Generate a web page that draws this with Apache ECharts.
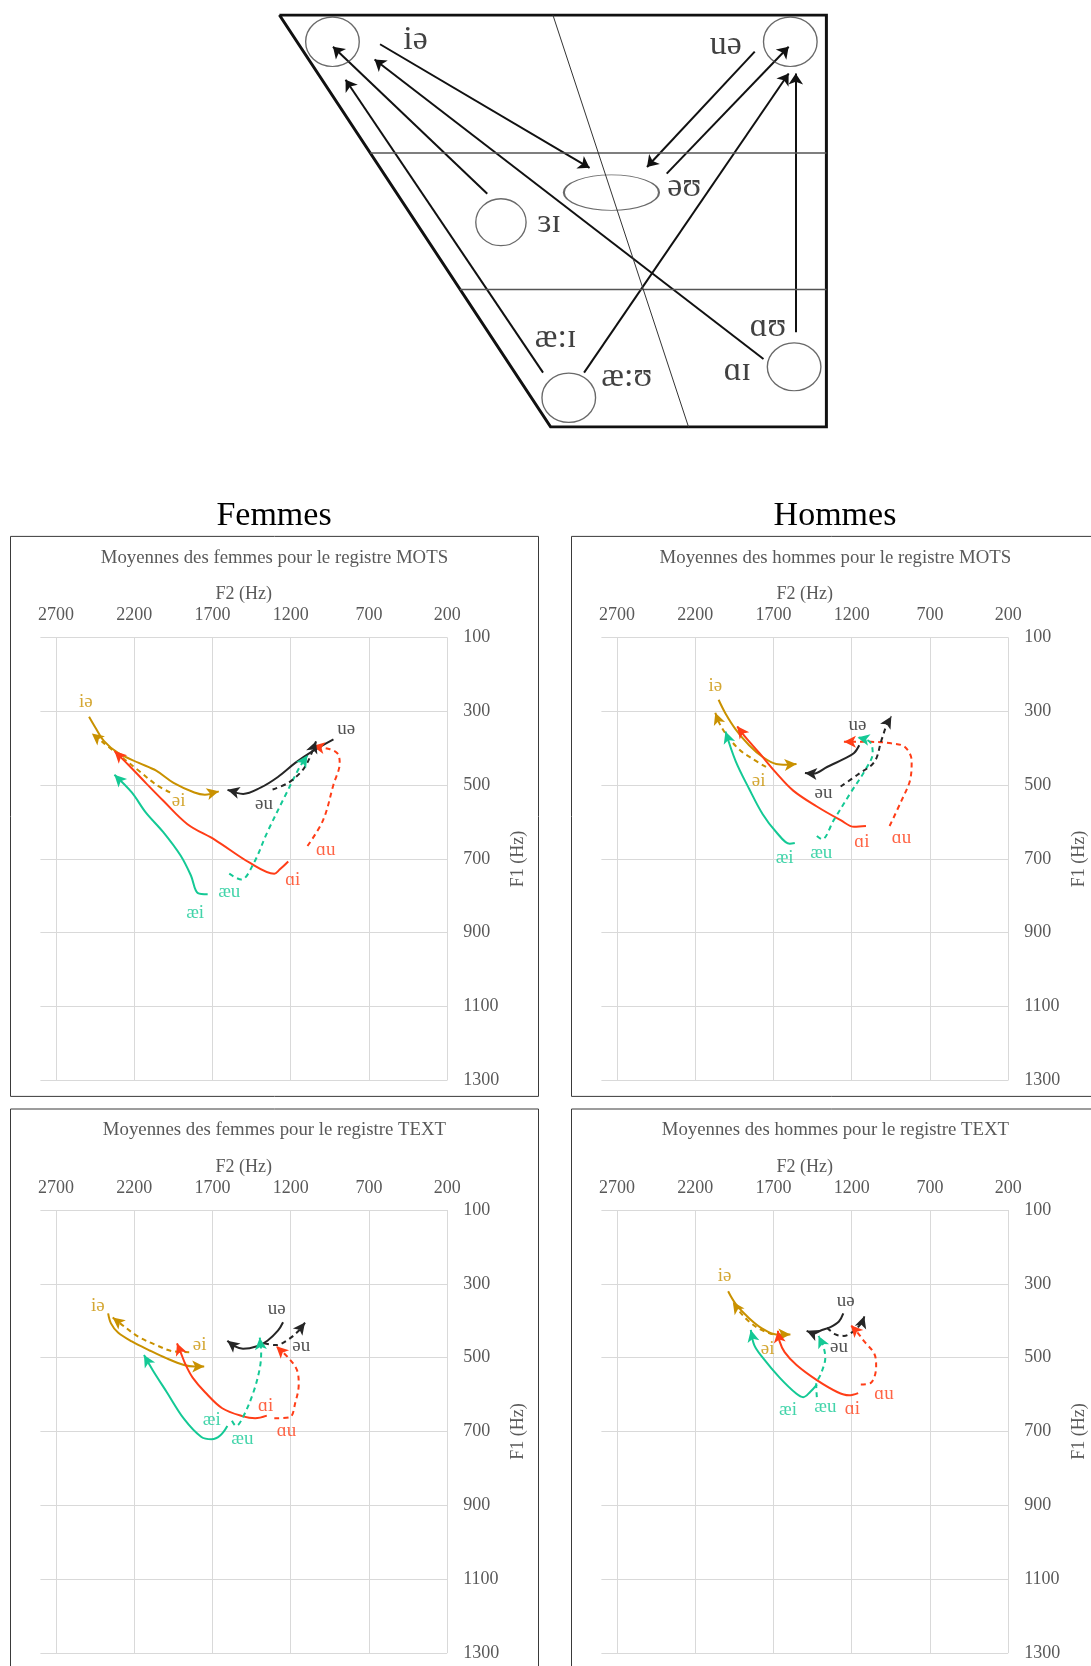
<!DOCTYPE html>
<html>
<head>
<meta charset="utf-8">
<script src="https://cdn.jsdelivr.net/npm/echarts@6/dist/echarts.min.js"></script>
<style>
  html, body { margin: 0; padding: 0; background: #fff; }
  #main { width: 1091px; height: 1666px; }
</style>
</head>
<body>
<div id="main"></div>
<script>
// ---- schematic (units: 0..100 across, 0..100 down) ----
const diagOutline = [[0, 0], [100, 0], [100, 100], [49.6, 100], [0, 0]];
const diagRows = [[[16.6, 33.5], [100, 33.5]], [[33.0, 66.6], [100, 66.6]]];
const diagSplit = [[50.0, 0], [74.8, 100]];
const diagRegionCentres = [[9.7, 6.5], [93.4, 6.5], [40.5, 50.3], [60.7, 43.1], [52.9, 92.9], [94.1, 85.4]];
const diagRegionRadii = [[4.9, 6.0], [4.9, 6.0], [4.6, 5.7], [8.7, 4.3], [4.9, 6.0], [4.9, 5.8]];
const diagArrows = [
  [[18.4, 7.1], [56.7, 37.1]], [[86.9, 8.9], [67.2, 36.9]], [[70.8, 38.5], [93.1, 7.7]],
  [[38.0, 43.4], [9.8, 7.7]], [[48.2, 86.8], [12.1, 15.7]], [[88.5, 83.5], [17.4, 10.8]],
  [[55.7, 86.8], [93.1, 14.2]], [[94.4, 77.0], [94.4, 14.2]]
];
const diagLabels = ['iə', 'uə', 'ɜɪ', 'əʊ', 'æ:ɪ', 'æ:ʊ', 'ɑʊ', 'ɑɪ'];
const diagLabelPos = [[24.9, 6.1], [81.6, 7.3], [49.3, 50.5], [74.0, 41.7], [50.5, 78.3], [63.5, 87.8], [89.3, 75.8], [83.7, 86.5]];

// ---- formant trajectories [F2, F1] in Hz ----
const vowels = ['iə', 'əi', 'ɑi', 'ɑu', 'æi', 'æu', 'uə', 'əu'];
const xTicks = [200, 700, 1200, 1700, 2200, 2700];
const yTicks = [100, 300, 500, 700, 900, 1100, 1300];

// femmes MOTS
const fm_ie = [[2489,315],[2449,344],[2393,381],[2304,413],[2171,440],[2060,461],[1949,494],[1816,520],[1749,526],[1660,517]];
const fm_ei = [[1971,520],[2060,499],[2171,461],[2282,424],[2393,387],[2471,360]];
const fm_ai = [[1216,707],[1271,729],[1305,740],[1460,711],[1682,649],[1860,606],[2016,542],[2127,494],[2238,445],[2327,408]];
const fm_au = [[1093,665],[993,595],[927,499],[887,440],[900,415],[949,403],[1060,394]];
const fm_aei = [[1731,796],[1793,793],[1838,745],[1904,691],[2016,627],[2127,574],[2216,520],[2327,472]];
const fm_aeu = [[1593,740],[1516,756],[1438,713],[1349,627],[1238,531],[1149,456],[1093,419]];
const fm_ue = [[927,376],[1060,408],[1171,440],[1282,478],[1393,507],[1504,524],[1604,513]];
const fm_eu = [[1316,512],[1216,494],[1127,461],[1082,429],[1038,381]];
const fm_lab = [[2509,274],[1916,542],[1187,756],[976,675],[1811,847],[1593,791],[845,349],[1371,550]];

// hommes MOTS
const hm_ie = [[2051,269],[2007,306],[1942,349],[1856,392],[1769,424],[1683,443],[1618,445],[1553,443]];
const hm_ei = [[1748,451],[1834,429],[1921,403],[2007,360],[2051,328],[2072,304]];
const hm_ai = [[1109,611],[1185,613],[1271,595],[1423,558],[1574,515],[1683,467],[1791,413],[1878,371],[1932,341]];
const hm_au = [[958,611],[882,542],[828,488],[817,435],[860,397],[947,387],[1077,383],[1250,383]];
const hm_aei = [[1564,657],[1596,659],[1683,627],[1769,579],[1856,510],[1942,435],[2007,355]];
const hm_aeu = [[1423,638],[1390,647],[1315,595],[1206,520],[1109,456],[1066,413],[1077,387],[1109,376],[1163,371]];
const hm_ue = [[1152,392],[1185,413],[1250,429],[1358,451],[1445,469],[1499,467]];
const hm_eu = [[1271,504],[1163,472],[1055,437],[1012,381],[973,333],[947,314]];
const hm_lab = [[2072,232],[1795,490],[1135,654],[882,643],[1629,697],[1395,683],[1163,338],[1380,522]];

// femmes TEXT
const ft_ie = [[2367,380],[2349,407],[2304,432],[2216,456],[2104,480],[1993,502],[1882,520],[1816,524],[1753,524]];
const ft_ei = [[1849,485],[1949,483],[2060,466],[2171,444],[2260,417],[2338,391]];
const ft_ai = [[1353,657],[1427,664],[1505,659],[1638,637],[1749,593],[1827,554],[1871,520],[1904,485],[1927,461]];
const ft_au = [[1305,664],[1205,661],[1171,622],[1149,573],[1160,534],[1216,500],[1293,469]];
const ft_aei = [[1605,685],[1649,710],[1705,721],[1771,715],[1882,666],[1993,593],[2082,534],[2138,493]];
const ft_aeu = [[1576,671],[1549,685],[1505,661],[1438,593],[1398,529],[1389,485],[1398,446]];
const ft_ue = [[1249,404],[1282,427],[1349,454],[1416,469],[1505,476],[1560,469],[1605,454]];
const ft_eu = [[1371,461],[1293,466],[1216,451],[1149,427],[1109,405]];
const ft_lab = [[2433,360],[1782,466],[1360,630],[1227,698],[1705,669],[1509,720],[1289,368],[1133,469]];

// hommes TEXT
const ht_ie = [[1990,320],[1942,354],[1856,393],[1769,422],[1683,437],[1592,437]];
const ht_ei = [[1704,437],[1791,422],[1867,398],[1921,373],[1960,349]];
const ht_ai = [[1159,596],[1217,602],[1293,593],[1423,561],[1553,520],[1629,485],[1661,456],[1672,427]];
const ht_au = [[1142,573],[1077,568],[1044,524],[1055,490],[1120,456],[1163,432],[1206,412]];
const ht_aei = [[1423,573],[1466,593],[1510,607],[1553,598],[1661,554],[1769,500],[1823,466],[1845,425]];
const ht_aeu = [[1423,607],[1427,573],[1397,544],[1369,500],[1384,466],[1412,441]];
const ht_ue = [[1254,380],[1282,402],[1336,417],[1401,427],[1445,435],[1488,427]];
const ht_eu = [[1358,419],[1304,437],[1250,441],[1185,427],[1131,402],[1120,388]];
const ht_lab = [[2012,279],[1737,476],[1196,640],[994,598],[1607,641],[1369,634],[1239,347],[1282,471]];

const SERIF = '"Liberation Serif", "DejaVu Serif", serif';
const GOLD = '#C99100', RED = '#FF3D17', TEAL = '#14C995', INK = '#262626';
const vowelColors = [GOLD, GOLD, RED, RED, TEAL, TEAL, INK, INK];
const vowelDashed = [false, true, false, true, false, true, false, true];

const PW = 406.8, PH = 443;
const panels = [
  {curves: [fm_ie, fm_ei, fm_ai, fm_au, fm_aei, fm_aeu, fm_ue, fm_eu], labels: fm_lab,
   title: 'Moyennes des femmes pour le registre MOTS', left: 40.4, top: 637.4},
  {curves: [hm_ie, hm_ei, hm_ai, hm_au, hm_aei, hm_aeu, hm_ue, hm_eu], labels: hm_lab,
   title: 'Moyennes des hommes pour le registre MOTS', left: 601.4, top: 637.4},
  {curves: [ft_ie, ft_ei, ft_ai, ft_au, ft_aei, ft_aeu, ft_ue, ft_eu], labels: ft_lab,
   title: 'Moyennes des femmes pour le registre TEXT', left: 40.4, top: 1210},
  {curves: [ht_ie, ht_ei, ht_ai, ht_au, ht_aei, ht_aeu, ht_ue, ht_eu], labels: ht_lab,
   title: 'Moyennes des hommes pour le registre TEXT', left: 601.4, top: 1210}
];

// arrow rotation from the last segment, in screen space
function arrowAngle(pts) {
  const a = pts[pts.length - 2], b = pts[pts.length - 1];
  const dx = -(b[0] - a[0]) * PW / 2600;
  const dy = (b[1] - a[1]) * PH / 1200;
  return Math.atan2(-dx, -dy) * 180 / Math.PI;
}

const DG = {left: 279.4, top: 15, width: 547, height: 412};

const option = {
  animation: false,
  backgroundColor: '#fff',
  title: [],
  grid: [],
  xAxis: [],
  yAxis: [],
  series: [],
  graphic: []
};

// schematic grid
option.grid.push({left: DG.left, top: DG.top, width: DG.width, height: DG.height, outerBoundsMode: 'none'});
option.xAxis.push({gridIndex: 0, type: 'value', min: 0, max: 100, show: false});
option.yAxis.push({gridIndex: 0, type: 'value', min: 0, max: 100, inverse: true, show: false});

option.series.push({
  type: 'line', xAxisIndex: 0, yAxisIndex: 0, data: diagOutline, symbol: 'none', silent: true,
  lineStyle: {color: '#111', width: 3, join: 'miter'}
});
diagRows.forEach(r => option.series.push({
  type: 'line', xAxisIndex: 0, yAxisIndex: 0, data: r, symbol: 'none', silent: true,
  lineStyle: {color: '#555', width: 1.5}
}));
option.series.push({
  type: 'line', xAxisIndex: 0, yAxisIndex: 0, data: diagSplit, symbol: 'none', silent: true,
  lineStyle: {color: '#333', width: 1}
});
option.series.push({
  type: 'scatter', xAxisIndex: 0, yAxisIndex: 0, silent: true,
  data: diagRegionCentres.map((c, i) => ({
    value: c,
    symbolSize: [diagRegionRadii[i][0] / 100 * DG.width * 2, diagRegionRadii[i][1] / 100 * DG.height * 2]
  })),
  itemStyle: {color: 'rgba(0,0,0,0)', borderColor: '#444', borderWidth: 1.3}
});
option.series.push({
  type: 'lines', coordinateSystem: 'cartesian2d', xAxisIndex: 0, yAxisIndex: 0, silent: true,
  symbol: ['none', 'arrow'], symbolSize: 11,
  lineStyle: {color: '#111', width: 2, opacity: 1, curveness: 0},
  data: diagArrows.map(a => ({coords: a}))
});
option.series.push({
  type: 'scatter', xAxisIndex: 0, yAxisIndex: 0, silent: true, symbolSize: 1,
  itemStyle: {color: 'rgba(0,0,0,0)'},
  label: {show: true, position: 'inside', formatter: '{b}', color: '#111', fontFamily: SERIF, fontSize: 34},
  data: diagLabelPos.map((p, i) => ({name: diagLabels[i], value: p}))
});

// section headings
option.title.push({text: 'Femmes', left: 274, top: 499, textAlign: 'center', padding: 0,
  textStyle: {fontFamily: SERIF, fontSize: 34, fontWeight: 'normal', color: '#000'}});
option.title.push({text: 'Hommes', left: 835, top: 499, textAlign: 'center', padding: 0,
  textStyle: {fontFamily: SERIF, fontSize: 34, fontWeight: 'normal', color: '#000'}});

const textStyle = {fontFamily: SERIF, fontSize: 18, color: '#595959'};
const plainNum = v => String(v);

panels.forEach((p, k) => {
  const gi = k + 1;
  const boxX = p.left - 29.9, boxY = p.top - 101;
  option.graphic.push({
    type: 'rect', silent: true, z: -1,
    shape: {x: boxX, y: boxY, width: 528, height: 560},
    style: {fill: 'none', stroke: '#3a3a3a', lineWidth: 1}
  });
  option.title.push({text: p.title, left: p.left + 234, top: p.top - 89, textAlign: 'center', padding: 0,
    textStyle: {fontFamily: SERIF, fontSize: 18.8, color: '#595959', fontWeight: 'normal'}});
  option.grid.push({left: p.left, top: p.top, width: PW, height: PH, outerBoundsMode: 'none'});
  option.xAxis.push({
    gridIndex: gi, type: 'value', position: 'top', inverse: true, min: 200, max: 2800,
    name: 'F2 (Hz)', nameLocation: 'middle', nameGap: 34, nameTextStyle: textStyle,
    axisLine: {show: false}, axisTick: {show: false, customValues: xTicks},
    axisLabel: Object.assign({customValues: xTicks, margin: 13, formatter: plainNum}, textStyle),
    splitLine: {show: true, lineStyle: {color: '#d9d9d9', width: 1}}
  });
  option.yAxis.push({
    gridIndex: gi, type: 'value', position: 'right', inverse: true, min: 100, max: 1300,
    name: 'F1 (Hz)', nameLocation: 'middle', nameGap: 62, nameTextStyle: textStyle,
    axisLine: {show: false}, axisTick: {show: false, customValues: yTicks},
    axisLabel: Object.assign({customValues: yTicks, margin: 16, formatter: plainNum}, textStyle),
    splitLine: {show: true, lineStyle: {color: '#d9d9d9', width: 1}}
  });
  p.curves.forEach((pts, i) => {
    const last = pts.length - 1;
    option.series.push({
      type: 'line', xAxisIndex: gi, yAxisIndex: gi, smooth: 0.35, silent: true,
      symbol: 'none', showSymbol: true, showAllSymbol: true, z: 3,
      lineStyle: {color: vowelColors[i], width: 2, type: vowelDashed[i] ? [5, 4] : 'solid'},
      itemStyle: {color: vowelColors[i]},
      data: pts.map((d, j) => j === last
        ? {value: d, symbol: 'arrow', symbolSize: [9, 12], symbolRotate: arrowAngle(pts)}
        : d)
    });
  });
  option.series.push({
    type: 'scatter', xAxisIndex: gi, yAxisIndex: gi, silent: true, symbolSize: 1, z: 4,
    itemStyle: {color: 'rgba(0,0,0,0)'},
    label: {show: true, position: 'inside', formatter: '{b}', fontFamily: SERIF, fontSize: 19},
    data: p.labels.map((d, i) => ({name: vowels[i], value: d, label: {color: vowelColors[i]}}))
  });
});

const chart = echarts.init(document.getElementById('main'));
chart.setOption(option);
</script>
</body>
</html>
